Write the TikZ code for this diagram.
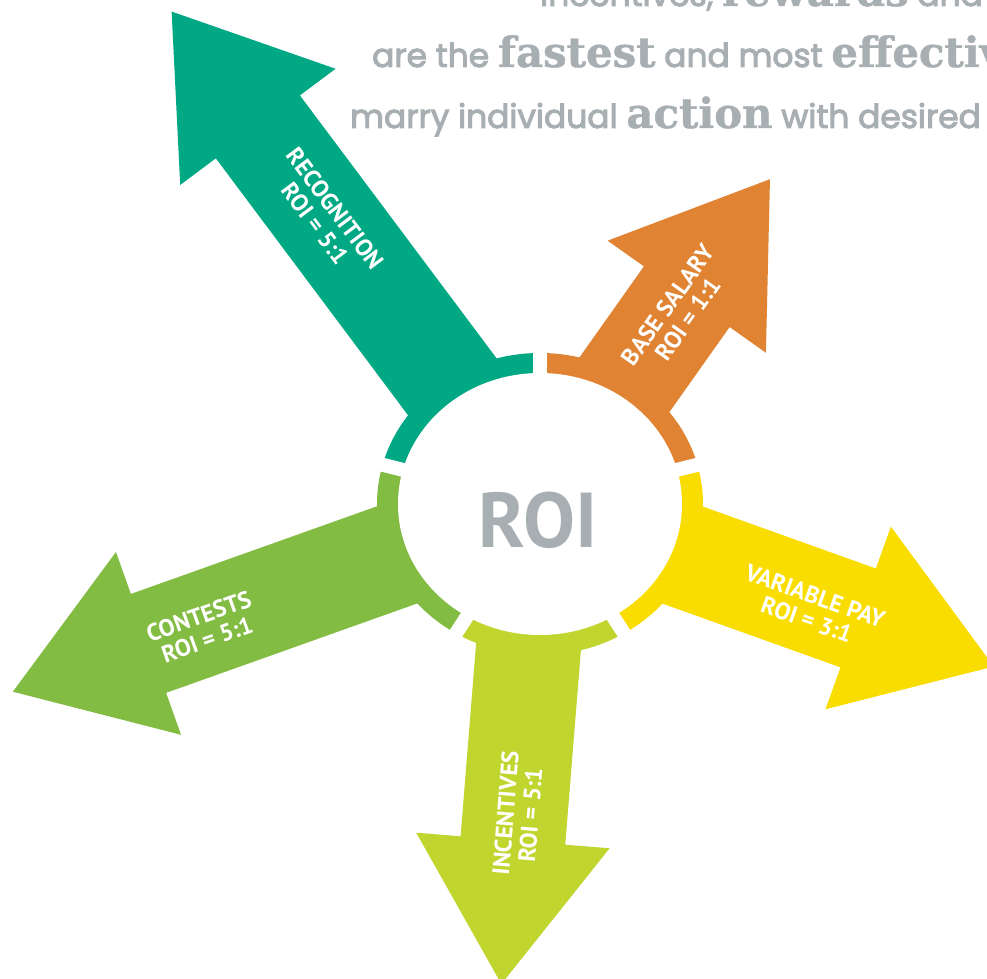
\documentclass[tikz,border=0pt]{standalone}
\usepackage{fontspec}
\newfontfamily\labelfont{PT Sans}
\newfontfamily\leadfont{Poppins}[FakeBold=3]
\newfontfamily\slabfont{DejaVu Serif}[FakeBold=1]

\tikzset{
    armlabel/.style={text=white, inner sep=0pt, align=center,
        font=\labelfont\bfseries\fontsize{24}{25}\selectfont},
    leadline/.style={anchor=base west, inner sep=0pt, text=roigray,
        font=\leadfont\fontsize{33}{36}\selectfont},
}

\newcommand{\bigword}[1]{{\slabfont\bfseries\fontsize{42}{44}\selectfont #1}}
% arrow along angle #1, tip at distance #2
\newcommand{\roiarrow}[3]{%
    \fill[#3, rotate=#1] (0,-52.5) -- (#2-144,-52.5) -- (#2-144,-97) -- (#2,0)
        -- (#2-144,97) -- (#2-144,52.5) -- (0,52.5) -- cycle;
}

\begin{document}
\begin{tikzpicture}[x=1bp,y=1bp]
    \definecolor{recteal}{RGB}{0,168,132}
    \definecolor{salorange}{RGB}{224,131,50}
    \definecolor{payyellow}{RGB}{249,221,0}
    \definecolor{inclime}{RGB}{192,213,46}
    \definecolor{congreen}{RGB}{130,188,66}
    \definecolor{roigray}{RGB}{168,175,179}

    \useasboundingbox (-540,-475) rectangle (447,504);
    \clip (-540,-475) rectangle (447,504);
    \fill[white] (-540,-475) rectangle (447,504);

    % ring pieces
    \begin{scope}
        \clip (0,0) ellipse (163 and 151);
        \fill[salorange] (0,0) -- (14:300) -- (52:300) -- (90:300) -- cycle;
        \fill[payyellow] (0,0) -- (-57:300) -- (-21:300) -- (14:300) -- cycle;
        \fill[inclime] (0,0) -- (-123:300) -- (-90:300) -- (-57:300) -- cycle;
        \fill[congreen] (0,0) -- (166:300) -- (200:300) -- (237:300) -- cycle;
        \fill[recteal] (0,0) -- (90:300) -- (128:300) -- (166:300) -- cycle;
    \end{scope}

    % the five arrows
    \roiarrow{126.8}{615}{recteal}
    \roiarrow{54.7}{398}{salorange}
    \roiarrow{-19.7}{482}{payyellow}
    \roiarrow{-94.6}{481.6}{inclime}
    \roiarrow{-160.4}{559.6}{congreen}

    \fill[white] (0,0) ellipse (142 and 131);
    \foreach \a in {90,14,-57,-123,166}
        \draw[white, line width=14bp] (0,0) -- (\a:175);

    \node[inner sep=0pt, text=roigray, font=\labelfont\bfseries\fontsize{78}{80}\selectfont]
        (roi) at (-2,-16) {ROI};

    \node[armlabel, rotate=-53.2] (recog) at (-215,288) {RECOGNITION\\ROI = 5:1};
    \node[armlabel, rotate=54.7] (salary) at (138,192) {BASE SALARY\\ROI = 1:1};
    \node[armlabel, rotate=-19.7] (variable) at (271,-104) {VARIABLE PAY\\ROI = 3:1};
    \node[armlabel, rotate=85.4] (incent) at (-22,-310) {INCENTIVES\\ROI = 5:1};
    \node[armlabel, rotate=19.6] (contest) at (-337,-124) {CONTESTS\\ROI = 5:1};

    % heading lines
    \node[leadline] (lineA) at (0,498) {incentives, \bigword{rewards} and};
    \node[leadline] (lineB) at (-168,437) {are the \bigword{fastest} and most \bigword{effective}};
    \node[leadline] (lineC) at (-190,376) {marry individual \bigword{action} with desired};
\end{tikzpicture}
\end{document}
